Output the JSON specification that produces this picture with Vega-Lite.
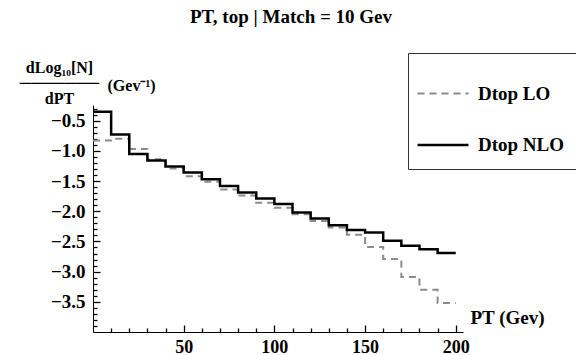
{
  "$schema": "https://vega.github.io/schema/vega-lite/v6.json",
  "width": 370,
  "height": 227,
  "autosize": {"type": "none"},
  "padding": {"left": 93, "top": 105, "right": 113, "bottom": 23},
  "background": "white",
  "title": {
    "text": "PT, top | Match = 10 Gev",
    "font": "Liberation Serif",
    "fontWeight": "bold",
    "fontSize": 19,
    "color": "black",
    "anchor": "middle",
    "frame": "group",
    "dx": 13,
    "dy": -22,
    "offset": 4
  },
  "data": {
    "values": [
      {"pt": 0, "v": -0.83, "series": "Dtop LO"},
      {"pt": 10, "v": -0.80, "series": "Dtop LO"},
      {"pt": 20, "v": -0.97, "series": "Dtop LO"},
      {"pt": 30, "v": -1.14, "series": "Dtop LO"},
      {"pt": 40, "v": -1.29, "series": "Dtop LO"},
      {"pt": 50, "v": -1.42, "series": "Dtop LO"},
      {"pt": 60, "v": -1.51, "series": "Dtop LO"},
      {"pt": 70, "v": -1.64, "series": "Dtop LO"},
      {"pt": 80, "v": -1.74, "series": "Dtop LO"},
      {"pt": 90, "v": -1.86, "series": "Dtop LO"},
      {"pt": 100, "v": -1.94, "series": "Dtop LO"},
      {"pt": 110, "v": -2.05, "series": "Dtop LO"},
      {"pt": 120, "v": -2.16, "series": "Dtop LO"},
      {"pt": 130, "v": -2.27, "series": "Dtop LO"},
      {"pt": 140, "v": -2.39, "series": "Dtop LO"},
      {"pt": 150, "v": -2.59, "series": "Dtop LO"},
      {"pt": 160, "v": -2.79, "series": "Dtop LO"},
      {"pt": 170, "v": -3.09, "series": "Dtop LO"},
      {"pt": 180, "v": -3.30, "series": "Dtop LO"},
      {"pt": 190, "v": -3.52, "series": "Dtop LO"},
      {"pt": 200, "v": -3.52, "series": "Dtop LO"},
      {"pt": 0, "v": -0.35, "series": "Dtop NLO"},
      {"pt": 10, "v": -0.73, "series": "Dtop NLO"},
      {"pt": 20, "v": -1.05, "series": "Dtop NLO"},
      {"pt": 30, "v": -1.16, "series": "Dtop NLO"},
      {"pt": 40, "v": -1.26, "series": "Dtop NLO"},
      {"pt": 50, "v": -1.36, "series": "Dtop NLO"},
      {"pt": 60, "v": -1.47, "series": "Dtop NLO"},
      {"pt": 70, "v": -1.58, "series": "Dtop NLO"},
      {"pt": 80, "v": -1.69, "series": "Dtop NLO"},
      {"pt": 90, "v": -1.79, "series": "Dtop NLO"},
      {"pt": 100, "v": -1.88, "series": "Dtop NLO"},
      {"pt": 110, "v": -2.02, "series": "Dtop NLO"},
      {"pt": 120, "v": -2.12, "series": "Dtop NLO"},
      {"pt": 130, "v": -2.23, "series": "Dtop NLO"},
      {"pt": 140, "v": -2.31, "series": "Dtop NLO"},
      {"pt": 150, "v": -2.35, "series": "Dtop NLO"},
      {"pt": 160, "v": -2.49, "series": "Dtop NLO"},
      {"pt": 170, "v": -2.57, "series": "Dtop NLO"},
      {"pt": 180, "v": -2.63, "series": "Dtop NLO"},
      {"pt": 190, "v": -2.69, "series": "Dtop NLO"},
      {"pt": 200, "v": -2.69, "series": "Dtop NLO"}
    ]
  },
  "resolve": {"axis": {"x": "independent", "y": "independent"}},
  "layer": [
    {
      "mark": {"type": "line", "interpolate": "step-after", "clip": false},
      "encoding": {
        "x": {
          "field": "pt",
          "type": "quantitative",
          "scale": {"domain": [0, 204], "nice": false, "zero": false},
          "axis": {
            "orient": "bottom",
            "values": [50, 100, 150, 200],
            "grid": false,
            "ticks": false,
            "domainColor": "black",
            "labelPadding": 6,
            "labelFont": "Liberation Serif",
            "labelFontWeight": "bold",
            "labelFontSize": 18,
            "labelColor": "black",
            "labelBaseline": "top",
            "title": "PT (Gev)",
            "titleFont": "Liberation Serif",
            "titleFontWeight": "bold",
            "titleFontSize": 19,
            "titleColor": "black",
            "titleX": 377,
            "titleY": -15,
            "titleAlign": "left",
            "titleBaseline": "middle"
          }
        },
        "y": {
          "field": "v",
          "type": "quantitative",
          "scale": {"domain": [-4.0, -0.24], "nice": false, "zero": false},
          "axis": {
            "orient": "left",
            "values": [-0.5, -1.0, -1.5, -2.0, -2.5, -3.0, -3.5],
            "format": ".1f",
            "grid": false,
            "ticks": false,
            "domainColor": "black",
            "labelPadding": 8,
            "labelFont": "Liberation Serif",
            "labelFontWeight": "bold",
            "labelFontSize": 19,
            "labelColor": "black",
            "title": ["dLog₁₀[N]", "───────", "dPT"],
            "titleFont": "Liberation Serif",
            "titleFontWeight": "bold",
            "titleFontSize": 16,
            "titleColor": "black",
            "titleAngle": 0,
            "titleAlign": "center",
            "titleBaseline": "top",
            "titleX": -34,
            "titleY": -46,
            "titleLineHeight": 15.5
          }
        },
        "color": {
          "field": "series",
          "type": "nominal",
          "scale": {"domain": ["Dtop LO", "Dtop NLO"], "range": ["#8c8c8c", "#000000"]},
          "legend": {
            "orient": "none",
            "legendX": 315,
            "legendY": -52,
            "title": null,
            "symbolType": "stroke",
            "symbolSize": 2601,
            "symbolStrokeWidth": 1.2,
            "symbolOffset": -6,
            "labelFont": "Liberation Serif",
            "labelFontWeight": "bold",
            "labelFontSize": 19,
            "labelColor": "black",
            "labelOffset": 8,
            "rowPadding": 14,
            "padding": 14,
            "fillColor": "white",
            "strokeColor": "#333333",
            "cornerRadius": 0
          }
        },
        "strokeDash": {
          "field": "series",
          "type": "nominal",
          "scale": {"domain": ["Dtop LO", "Dtop NLO"], "range": [[7, 5], [1, 0]]}
        },
        "strokeWidth": {
          "field": "series",
          "type": "nominal",
          "scale": {"domain": ["Dtop LO", "Dtop NLO"], "range": [2, 2.5]},
          "legend": null
        }
      }
    },
    {
      "mark": {"type": "line", "opacity": 0},
      "encoding": {
        "x": {
          "field": "pt",
          "type": "quantitative",
          "axis": {
            "orient": "bottom",
            "values": [50, 100, 150, 200],
            "offset": -7,
            "tickSize": 7,
            "tickColor": "black",
            "tickWidth": 1.3,
            "domain": false,
            "labels": false,
            "grid": false,
            "title": null
          }
        },
        "y": {
          "field": "v",
          "type": "quantitative",
          "axis": {
            "orient": "left",
            "values": [-0.5, -1.0, -1.5, -2.0, -2.5, -3.0, -3.5],
            "offset": -7,
            "tickSize": 7,
            "tickColor": "black",
            "tickWidth": 1.3,
            "domain": false,
            "labels": false,
            "grid": false,
            "title": "(Gev⁻¹)",
            "titleFont": "Liberation Serif",
            "titleFontWeight": "bold",
            "titleFontSize": 16,
            "titleColor": "black",
            "titleAngle": 0,
            "titleAlign": "left",
            "titleBaseline": "middle",
            "titleX": 7,
            "titleY": -20
          }
        }
      }
    },
    {
      "mark": {"type": "line", "opacity": 0},
      "encoding": {
        "x": {
          "field": "pt",
          "type": "quantitative",
          "axis": {
            "orient": "bottom",
            "values": [10, 20, 30, 40, 60, 70, 80, 90, 110, 120, 130, 140, 160, 170, 180, 190],
            "offset": -4,
            "tickSize": 4,
            "tickColor": "black",
            "tickWidth": 1.3,
            "domain": false,
            "labels": false,
            "grid": false,
            "title": null
          }
        },
        "y": {
          "field": "v",
          "type": "quantitative",
          "axis": {
            "orient": "left",
            "values": [-0.3, -0.4, -0.6, -0.7, -0.8, -0.9, -1.1, -1.2, -1.3, -1.4, -1.6, -1.7, -1.8, -1.9, -2.1, -2.2, -2.3, -2.4, -2.6, -2.7, -2.8, -2.9, -3.1, -3.2, -3.3, -3.4, -3.6, -3.7, -3.8, -3.9],
            "offset": -4,
            "tickSize": 4,
            "tickColor": "black",
            "tickWidth": 1.3,
            "domain": false,
            "labels": false,
            "grid": false,
            "title": null
          }
        }
      }
    }
  ],
  "config": {
    "view": {"stroke": null},
    "axis": {"domainWidth": 1}
  }
}
